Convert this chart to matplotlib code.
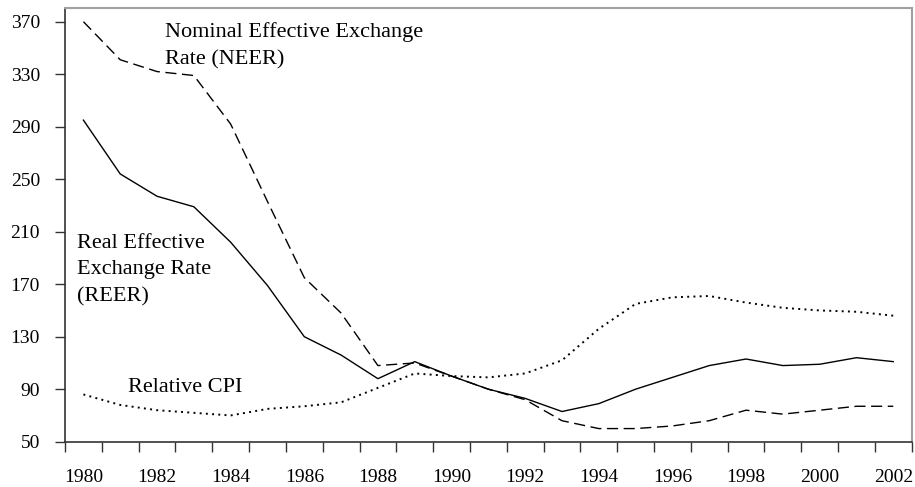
import numpy as np
import matplotlib
matplotlib.use("Agg")
import matplotlib.pyplot as plt
from matplotlib.ticker import FixedLocator, NullFormatter

plt.rcParams["font.family"] = ["Liberation Serif", "DejaVu Serif"]

# data
years = list(range(1980, 2003))
neer = [370, 341, 332, 329, 292, 233, 175, 148, 108, 110, 100, 90, 82, 66,
        60, 60, 62, 66, 74, 71, 74, 77, 77]
reer = [295, 254, 237, 229, 202, 169, 130, 116, 98, 111, 100, 90, 83, 73,
        79, 90, 99, 108, 113, 108, 109, 114, 111]
cpi = [86, 78, 74, 72, 70, 75, 77, 80, 91, 102, 100, 99, 102, 112,
       136, 155, 160, 161, 156, 152, 150, 149, 146]
ytick_vals = list(range(50, 371, 40))
xlabel_years = list(range(1980, 2003, 2))

W, H = 915, 487
fig = plt.figure(figsize=(W / 100, H / 100), dpi=100)
ax = fig.add_axes([65 / W, 1 - 441.7 / H, (911.7 - 65) / W, (441.7 - 8.3) / H])

ax.plot(years, neer, color="black", lw=1.0, ls=(0, (8, 4)))
ax.plot(years, reer, color="black", lw=1.0, ls="-")
ax.plot(years, cpi, color="black", lw=1.4, ls=(0, (1, 2.2)))

ax.set_xlim(years[0] - 0.5, years[-1] + 0.5)
ax.set_ylim(50, 380.2)

# category axis: ticks between years, labels under every other year
ax.xaxis.set_major_locator(FixedLocator(np.arange(years[0] - 0.5, years[-1] + 1, 1)))
ax.xaxis.set_major_formatter(NullFormatter())
ax.xaxis.set_minor_locator(FixedLocator(xlabel_years))
ax.set_xticklabels([str(y) for y in xlabel_years], minor=True)
ax.tick_params(axis="x", which="major", direction="out", length=7, width=1.0,
               color="#333333")
ax.tick_params(axis="x", which="minor", length=0, pad=20, labelsize=14)

ax.set_yticks(ytick_vals)
ax.tick_params(axis="y", direction="out", length=7, width=1.0, color="#333333",
               pad=11, labelsize=14)

for s in ["left", "bottom"]:
    ax.spines[s].set_color("#333333")
    ax.spines[s].set_linewidth(1.2)
for s in ["top", "right"]:
    ax.spines[s].set_color("#a0a0a0")
    ax.spines[s].set_linewidth(1.5)


def px(x, y):
    # pixel position in the image -> axes fraction
    return (x - 65) / (911.7 - 65), (441.7 - y) / (441.7 - 8.3)


ax.text(*px(165, 46), "Nominal Effective Exchange\nRate (NEER)", transform=ax.transAxes,
        fontsize=16, ha="left", va="center", linespacing=1.55)
ax.text(*px(77, 270), "Real Effective\nExchange Rate\n(REER)", transform=ax.transAxes,
        fontsize=16, ha="left", va="center", linespacing=1.55)
ax.text(*px(128, 387), "Relative CPI", transform=ax.transAxes,
        fontsize=16, ha="left", va="center")

fig.savefig("out.png", dpi=100)
